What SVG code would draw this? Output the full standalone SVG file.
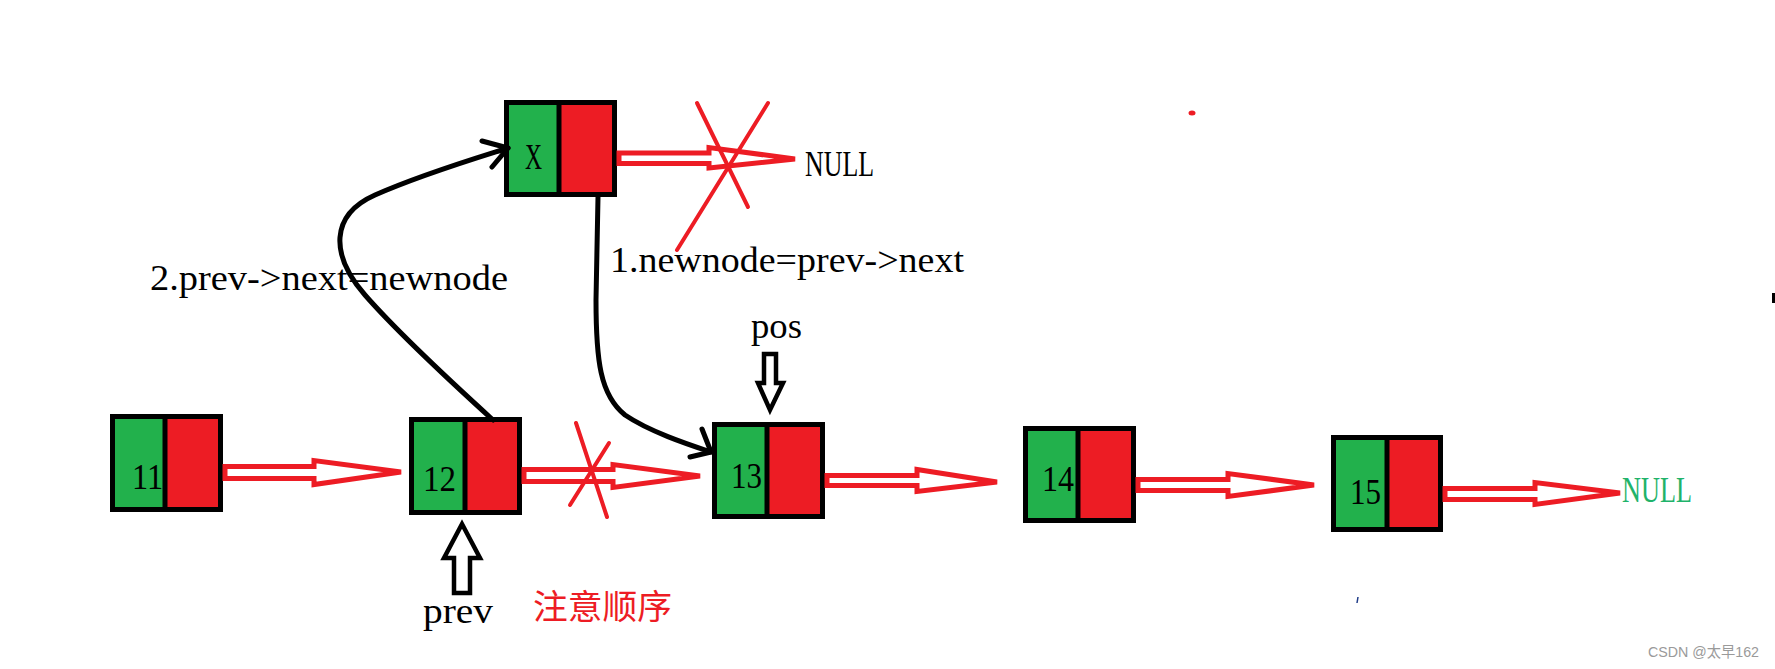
<svg xmlns="http://www.w3.org/2000/svg" width="1775" height="669" viewBox="0 0 1775 669">
<style>
.g{fill:#22b14c}
.r{fill:#ed1c24}
.box{fill:none;stroke:#000;stroke-width:5}
.div{stroke:#000;stroke-width:5}
.t{font-family:"Liberation Serif",serif;font-size:36px;fill:#000}
.harrow{fill:#fff;stroke:#ed1c24;stroke-width:5;stroke-linejoin:miter;stroke-miterlimit:3}
.barrow{fill:#fff;stroke:#000;stroke-width:4.5;stroke-linejoin:miter}
.curve{fill:none;stroke:#000;stroke-width:5;stroke-linecap:round;stroke-linejoin:round}
.cross{stroke:#ed1c24;stroke-width:4;stroke-linecap:round}
</style>
<rect width="1775" height="669" fill="#fff"/>

<g id="node-11">
<rect class="g" x="112" y="416" width="53" height="94"/>
<rect class="r" x="165" y="416" width="56" height="94"/>
<rect class="box" x="112.5" y="416.5" width="108" height="93"/>
<line class="div" x1="165" y1="416" x2="165" y2="510"/>
<text class="t" x="132" y="489" textLength="31" lengthAdjust="spacingAndGlyphs">11</text>
</g>

<g id="node-12">
<rect class="g" x="411" y="419" width="54" height="94"/>
<rect class="r" x="465" y="419" width="55" height="94"/>
<rect class="box" x="411.5" y="419.5" width="108" height="93"/>
<line class="div" x1="465" y1="419" x2="465" y2="513"/>
<text class="t" x="423" y="491" textLength="33" lengthAdjust="spacingAndGlyphs">12</text>
</g>

<g id="node-x">
<rect class="g" x="506" y="102" width="53" height="93"/>
<rect class="r" x="559" y="102" width="56" height="93"/>
<rect class="box" x="506.5" y="102.5" width="108" height="92"/>
<line class="div" x1="559" y1="102" x2="559" y2="195"/>
<text class="t" x="525" y="169" textLength="17" lengthAdjust="spacingAndGlyphs">X</text>
</g>

<g id="node-13">
<rect class="g" x="714" y="424" width="53" height="93"/>
<rect class="r" x="767" y="424" width="56" height="93"/>
<rect class="box" x="714.5" y="424.5" width="108" height="92"/>
<line class="div" x1="767" y1="424" x2="767" y2="517"/>
<text class="t" x="731" y="488" textLength="31" lengthAdjust="spacingAndGlyphs">13</text>
</g>

<g id="node-14">
<rect class="g" x="1025" y="428" width="53" height="93"/>
<rect class="r" x="1078" y="428" width="56" height="93"/>
<rect class="box" x="1025.5" y="428.5" width="108" height="92"/>
<line class="div" x1="1078" y1="428" x2="1078" y2="521"/>
<text class="t" x="1042" y="491" textLength="32" lengthAdjust="spacingAndGlyphs">14</text>
</g>

<g id="node-15">
<rect class="g" x="1333" y="437" width="54" height="93"/>
<rect class="r" x="1387" y="437" width="54" height="93"/>
<rect class="box" x="1333.5" y="437.5" width="107" height="92"/>
<line class="div" x1="1387" y1="437" x2="1387" y2="530"/>
<text class="t" x="1350" y="504" textLength="31" lengthAdjust="spacingAndGlyphs">15</text>
</g>

<g id="null-top">
<text class="t" x="805" y="176" textLength="69" lengthAdjust="spacingAndGlyphs">NULL</text>
</g>
<g id="null-end">
<text class="t" x="1622" y="502" textLength="70" lengthAdjust="spacingAndGlyphs" style="fill:#1fb36a">NULL</text>
</g>

<g id="pointer-prev">
<polygon class="barrow" points="462,524 480,558 470,558 470,593 454,593 454,558 444,558"/>
<text class="t" x="423" y="623" textLength="70" lengthAdjust="spacingAndGlyphs">prev</text>
</g>

<g id="pointer-pos">
<polygon class="barrow" points="764,354 776,354 776,383 783,383 770,410 758,383 764,383"/>
<text class="t" x="751" y="338" textLength="51" lengthAdjust="spacingAndGlyphs">pos</text>
</g>

<g id="connectors">
<polygon class="harrow" points="225,466.5 314,466.5 314,460.5 401,472 314,484.5 314,478.5 225,478.5"/>
<polygon class="harrow" points="524,469.5 613,469.5 613,464.5 700,476 613,487.5 613,481.5 524,481.5"/>
<polygon class="harrow" points="827,475.5 917,475.5 917,469.5 997,482 917,491.5 917,485.5 827,485.5"/>
<polygon class="harrow" points="1138,479.5 1228,479.5 1228,473.5 1314,485 1228,496.5 1228,490.5 1138,490.5"/>
<polygon class="harrow" points="1445,488.5 1535,488.5 1535,482.5 1620,493 1535,504.5 1535,499.5 1445,499.5"/>
<polygon class="harrow" points="619,153 709,153 709,147.5 795,159 709,168 709,163.5 619,163.5"/>

<line class="cross" x1="697" y1="103" x2="748" y2="207"/>
<line class="cross" x1="768" y1="103" x2="677" y2="250"/>
<line class="cross" x1="576" y1="423" x2="607" y2="517"/>
<line class="cross" x1="609" y1="443" x2="570" y2="505"/>

<path class="curve" d="M598,197 L596,300 C596,360 600,395 625,415 C650,432 690,445 711,452"/>
<path class="curve" d="M702,429 L711,452 L690,457"/>
<path class="curve" d="M493,420 C460,390 400,335 365,295 C330,255 330,215 375,195 C420,175 470,160 508,148"/>
<path class="curve" d="M482,141 L508,148 L492,167"/>
</g>

<g id="labels">
<text class="t" x="150" y="290" textLength="358" lengthAdjust="spacingAndGlyphs">2.prev-&gt;next=newnode</text>
<text class="t" x="610" y="272" textLength="354" lengthAdjust="spacingAndGlyphs">1.newnode=prev-&gt;next</text>
<text x="533" y="619" textLength="139" lengthAdjust="spacingAndGlyphs" style="font-family:'Noto Sans CJK SC',sans-serif;font-size:34px;fill:#ed1c24">注意顺序</text>
<text x="1648" y="657" textLength="111" lengthAdjust="spacingAndGlyphs" style="font-family:'Liberation Sans','Noto Sans CJK SC',sans-serif;font-size:15px;fill:#9a9a9a">CSDN @太早162</text>
</g>

<g id="marks">
<ellipse cx="1192" cy="113" rx="3.5" ry="2.5" fill="#ed1c24"/>
<rect x="1772" y="293" width="3" height="10" fill="#000"/>
<line x1="1358" y1="597" x2="1357" y2="603" stroke="#1f3c88" stroke-width="1.5"/>
</g>
</svg>
